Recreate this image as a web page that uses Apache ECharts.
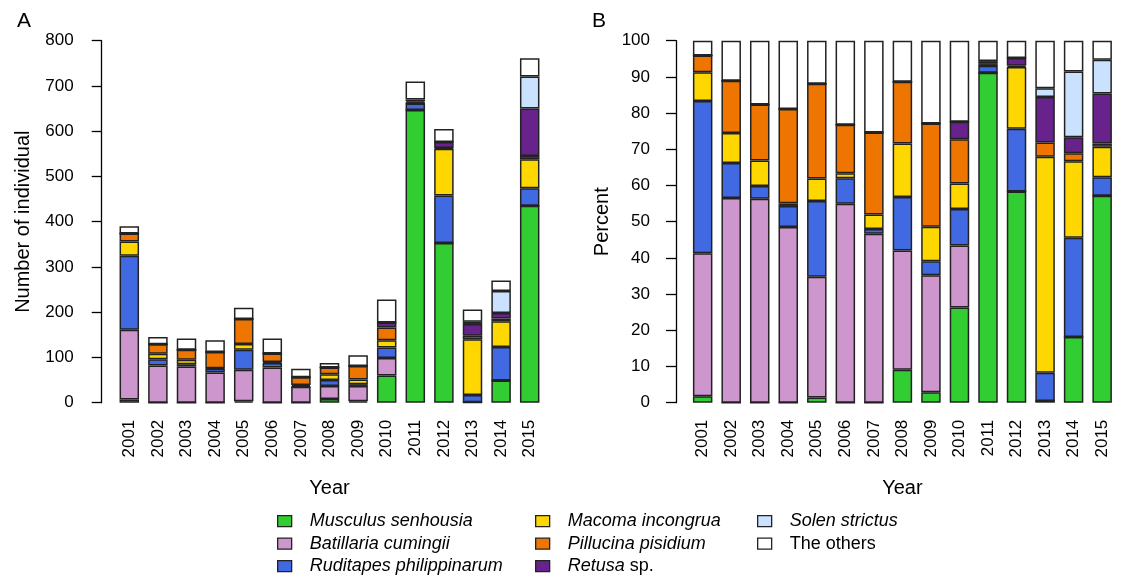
<!DOCTYPE html>
<html>
<head>
<meta charset="utf-8">
<script src="https://cdn.jsdelivr.net/npm/echarts@6/dist/echarts.min.js"></script>
<style>
html,body{margin:0;padding:0;background:#fff;}
#chart{width:1123px;height:580px;}
</style>
</head>
<body>
<div id="chart"></div>
<script>
// ---- Data (number of individuals per year) ----
const years = ['2001','2002','2003','2004','2005','2006','2007','2008','2009','2010','2011','2012','2013','2014','2015'];
const musculus   = [7,  0,  0,  0,  3,  0,  0,  8,  3,  60, 647, 353, 1,   49,  435];
const batillaria = [154,82, 80, 67, 70, 78, 35, 29, 34, 39, 0,   0,   0,   0,   0];
const ruditapes  = [164,14, 5,  8,  44, 10, 1,  13, 4,  23, 14,  105, 16,  74,  39];
const macoma     = [31, 12, 10, 1,  13, 2,  3,  13, 10, 16, 1,   103, 123, 57,  64];
const pillucina  = [18, 21, 22, 36, 55, 19, 17, 15, 30, 28, 1,   2,   8,   6,   7];
const retusa     = [0,  0,  0,  0,  0,  0,  0,  0,  0,  11, 3,   13,  26,  12,  105];
const solen      = [0,  0,  0,  0,  0,  0,  0,  0,  0,  0,  4,   0,   5,   49,  71];
const others     = [16, 16, 25, 26, 25, 33, 19, 10, 24, 51, 40,  29,  27,  23,  40];

const speciesNames = ['Musculus senhousia','Batillaria cumingii','Ruditapes philippinarum','Macoma incongrua','Pillucina pisidium','Retusa sp.','Solen strictus','The others'];
const speciesData = [musculus, batillaria, ruditapes, macoma, pillucina, retusa, solen, others];
const countTicks = [0,100,200,300,400,500,600,700,800];
const percentTicks = [0,10,20,30,40,50,60,70,80,90,100];

// ---- Styling ----
const colors = ['#32CD32','#CD96CD','#4169E1','#FFD700','#EE7600','#68228B','#CAE1FF','#FFFFFF'];
const FONT = '"Liberation Sans", Arial, Helvetica, sans-serif';
const totals = years.map((_, i) => speciesData.reduce((s, arr) => s + arr[i], 0));

const chart = echarts.init(document.getElementById('chart'), null, {renderer: 'canvas'});

function yAxisCfg(gridIndex, max, interval, name, offset, nameGap, margin) {
  return {
    type: 'value', gridIndex, min: 0, max, interval, offset,
    name, nameLocation: 'middle', nameGap, nameRotate: 90,
    nameTextStyle: {fontFamily: FONT, fontSize: 20, color: '#000'},
    axisLine: {show: true, lineStyle: {color: '#000', width: 1.3}},
    axisTick: {show: true, length: 10, lineStyle: {color: '#000', width: 1.3}},
    axisLabel: {fontFamily: FONT, fontSize: 17, color: '#000', margin},
    splitLine: {show: false}
  };
}
function xAxisCfg(gridIndex) {
  return {
    type: 'category', gridIndex, data: years,
    name: 'Year', nameLocation: 'middle', nameGap: 76,
    nameTextStyle: {fontFamily: FONT, fontSize: 20, color: '#000'},
    axisLine: {show: false}, axisTick: {show: false},
    axisLabel: {rotate: 90, interval: 0, margin: 17, fontFamily: FONT, fontSize: 17, color: '#000'}
  };
}

const series = [];
speciesNames.forEach((nm, k) => {
  const style = {color: colors[k], borderColor: '#222', borderWidth: 1.5};
  series.push({
    name: nm, type: 'bar', stack: 'A', xAxisIndex: 0, yAxisIndex: 0,
    barWidth: 19.5, itemStyle: style, data: speciesData[k], animation: false
  });
  series.push({
    name: nm, type: 'bar', stack: 'B', xAxisIndex: 1, yAxisIndex: 1,
    barWidth: 19.5, itemStyle: style,
    data: speciesData[k].map((v, i) => v / totals[i] * 100), animation: false
  });
});

function fmt(name) {
  if (name === 'The others') return name;
  if (name.endsWith(' sp.')) return '{i|' + name.slice(0, -4) + '} sp.';
  return '{i|' + name + '}';
}
function legendCfg(left, names) {
  return {
    orient: 'vertical', left, top: 512.2, padding: 0, itemWidth: 14, itemHeight: 11, itemGap: 4.5,
    icon: 'rect', selectedMode: false, data: names,
    itemStyle: {borderColor: '#222', borderWidth: 1.3},
    formatter: fmt,
    textStyle: {fontFamily: FONT, fontSize: 18, color: '#000', lineHeight: 18, padding: [0,0,0,13],
      rich: {i: {fontFamily: FONT, fontSize: 18, fontStyle: 'italic', color: '#000'}}}
  };
}

chart.setOption({
  backgroundColor: '#fff',
  animation: false,
  textStyle: {fontFamily: FONT},
  title: [
    {text: 'A', left: 12, top: 6, textStyle: {fontFamily: FONT, fontSize: 21, fontWeight: 'normal', color: '#000'}},
    {text: 'B', left: 587, top: 6, textStyle: {fontFamily: FONT, fontSize: 21, fontWeight: 'normal', color: '#000'}}
  ],
  grid: [
    {left: 115, top: 40.7, width: 429, height: 362},
    {left: 688.4, top: 40.7, width: 428, height: 362}
  ],
  xAxis: [xAxisCfg(0), xAxisCfg(1)],
  yAxis: [
    yAxisCfg(0, countTicks[countTicks.length-1], countTicks[1]-countTicks[0], 'Number of individual', 13.3, 68, 28),
    yAxisCfg(1, percentTicks[percentTicks.length-1], percentTicks[1]-percentTicks[0], 'Percent', 12.4, 64, 26)
  ],
  legend: [
    legendCfg(277, speciesNames.slice(0,3)),
    legendCfg(535, speciesNames.slice(3,6)),
    legendCfg(757, speciesNames.slice(6,8))
  ],
  series
});
</script>
</body>
</html>
